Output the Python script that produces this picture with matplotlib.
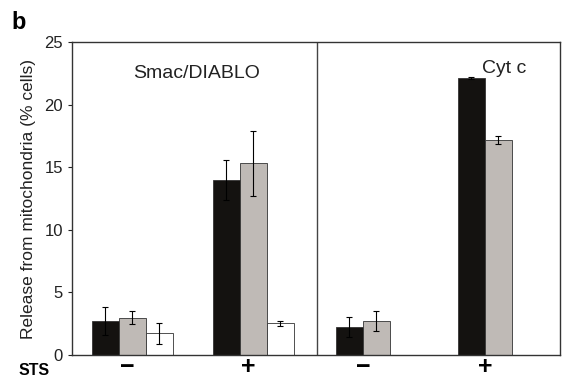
import numpy as np
import matplotlib.pyplot as plt

plt.rcParams['font.family'] = ['Liberation Sans', 'DejaVu Sans']

# Smac/DIABLO panel: three series, STS - / +
smac_black = [2.74, 14.0]
smac_black_err = [1.1, 1.6]
smac_grey = [2.98, 15.3]
smac_grey_err = [0.5, 2.6]
smac_white = [1.73, 2.53]
smac_white_err = [0.87, 0.2]

# Cyt c panel: two series
cyt_black = [2.26, 22.1]
cyt_black_err = [0.8, 0.1]
cyt_grey = [2.72, 17.17]
cyt_grey_err = [0.8, 0.3]

sts_labels = ["\u2212", "+"]
yticks = [0, 5, 10, 15, 20, 25]

fig = plt.figure(figsize=(5.62, 3.81), dpi=100)
ax = fig.add_axes([0.128, 0.068, 0.868, 0.822])

w = 1.0
left_centers = np.array([2.24, 6.72])
right_centers = np.array([10.78, 15.30])

err_kw = dict(ecolor="black", elinewidth=0.8, capsize=2, capthick=0.8)
edge = "#333333"

ax.bar(left_centers - w, smac_black, w, yerr=smac_black_err, color="#141210", edgecolor=edge, linewidth=0.6, error_kw=err_kw)
ax.bar(left_centers, smac_grey, w, yerr=smac_grey_err, color="#bfbab6", edgecolor=edge, linewidth=0.6, error_kw=err_kw)
ax.bar(left_centers + w, smac_white, w, yerr=smac_white_err, color="white", edgecolor=edge, linewidth=0.6, error_kw=err_kw)

ax.bar(right_centers - w / 2, cyt_black, w, yerr=cyt_black_err, color="#141210", edgecolor=edge, linewidth=0.6, error_kw=err_kw)
ax.bar(right_centers + w / 2, cyt_grey, w, yerr=cyt_grey_err, color="#bfbab6", edgecolor=edge, linewidth=0.6, error_kw=err_kw)

ax.axvline(9.07, color="#444444", linewidth=1.0)

ax.set_xlim(0, 18.07)
ax.set_ylim(0, 25)
ax.set_yticks(yticks)
ax.tick_params(axis="y", labelsize=12, length=3, width=0.8, colors="#222222")
ax.set_xticks(list(left_centers - 0.2) + list(right_centers))
ax.set_xticklabels(sts_labels + sts_labels, fontsize=18, fontweight="bold")
ax.tick_params(axis="x", length=0, pad=0)
for s in ax.spines.values():
    s.set_linewidth(1.0)
    s.set_color("#333333")

ax.set_ylabel("Release from mitochondria (% cells)", fontsize=12.5, color="#222222", labelpad=6)
ax.text(4.6, 22.5, "Smac/DIABLO", fontsize=14, ha="center", va="center", color="#222222")
ax.text(16.0, 22.9, "Cyt c", fontsize=14, ha="center", va="center", color="#222222")

fig.text(0.06, 0.028, "STS", fontsize=11.5, fontweight="bold", ha="center", va="center")
fig.text(0.02, 0.94, "b", fontsize=17, fontweight="bold", ha="left", va="center")

fig.savefig("out.png", dpi=100)
